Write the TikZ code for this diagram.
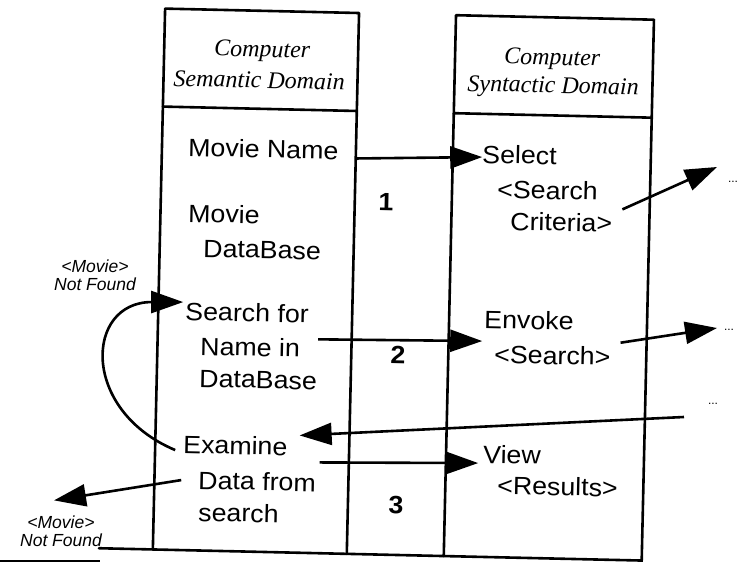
\documentclass[tikz,border=0pt]{standalone}
\usepackage{fontspec}
\usetikzlibrary{arrows.meta}
\newfontfamily\bodyfont{Liberation Sans}[FakeStretch=1.07]
\newfontfamily\headfont{Liberation Serif}
\newfontfamily\notefont{Liberation Sans}

\tikzset{
  frameline/.style={line width=2.6pt, line cap=round, line join=round},
  txt/.style={inner sep=0pt, anchor=base west, rotate=-1.3,
              font=\bodyfont\fontsize{25}{30}\selectfont},
  hdr/.style={inner sep=0pt, anchor=base, rotate=-1.3,
              font=\headfont\itshape\fontsize{24}{28}\selectfont},
  num/.style={inner sep=0pt, rotate=-1.3,
              font=\bodyfont\bfseries\fontsize{25}{30}\selectfont},
  note/.style={inner sep=0pt, align=center,
               font=\notefont\itshape\fontsize{17.5}{18}\selectfont},
  dots/.style={inner sep=0pt, font=\notefont\fontsize{12}{14}\selectfont},
  arr/.style={line width=2.6pt, -{Triangle[length=32pt,width=22pt]}},
}

\begin{document}
\begin{tikzpicture}[x=1pt,y=-1pt]
\fill[white] (0,0) rectangle (756,562);
\useasboundingbox (0,0) rectangle (756,562);

% the two domain columns, slightly tilted as on the page
\begin{scope}[rotate around={-1.3:(400,280)}, frameline]
  \draw (159,14) rectangle (353,112);
  \draw (159,112) -- (159,555);
  \draw (353,112) -- (353,555);
  \draw (450,14) rectangle (648,112);
  \draw (450,112) -- (450,555);
  \draw (648,112) -- (648,578);
  \draw (105,555) -- (648,555);
\end{scope}
\draw[line width=3pt] (0,561) -- (100,561);

% column headings
\node[hdr] (hL1) at (262,57) {Computer};
\node[hdr] (hL2) at (259,88) {Semantic Domain};
\node[hdr] (hR1) at (552,65) {Computer};
\node[hdr] (hR2) at (553,93) {Syntactic Domain};

% semantic domain entries
\node[txt] (mname) at (188,156) {Movie Name};
\node[txt] (mov)   at (188,222) {Movie};
\node[txt] (mdb)   at (203,257) {DataBase};
\node[txt] (sfor)  at (185,320) {Search for};
\node[txt] (nin)   at (200,355) {Name in};
\node[txt] (sdb)   at (199,387) {DataBase};
\node[txt] (exam)  at (183,453) {Examine};
\node[txt] (dfrom) at (198,489) {Data from};
\node[txt] (srch)  at (198,521) {search};

% syntactic domain entries
\node[txt] (sel)     at (482,163) {Select};
\node[txt] (scrit)   at (497,198) {<Search};
\node[txt] (crit)    at (510,230) {Criteria>};
\node[txt] (env)     at (484,328) {Envoke};
\node[txt] (ssearch) at (494,363) {<Search>};
\node[txt] (view)    at (483,463) {View};
\node[txt] (res)     at (497,494) {<Results>};

% step numbers
\node[num] (n1) at (386,202) {1};
\node[num] (n2) at (398,355) {2};
\node[num] (n3) at (396,505) {3};

% side notes
\node[note] (nfA) at (95,275) {<Movie>\\Not Found};
\node[note] (nfB) at (61,531) {<Movie>\\Not Found};

\node[dots] (dA) at (733,182) {...};
\node[dots] (dB) at (729,330) {...};
\node[dots] (dC) at (713,404) {...};

% connectors
\draw[arr] ([xshift=17pt,yshift=-8pt]mname.east) -- ([yshift=-3pt]sel.west);
\draw[arr] ([xshift=10pt,yshift=14pt]crit.east) -- ([xshift=-16pt,yshift=15pt]dA.center);
\draw[arr] ([xshift=18pt,yshift=9pt]nin.east) -- ([xshift=-2pt,yshift=-22pt]env.west);
\draw[arr] ([xshift=10pt,yshift=14pt]ssearch.east) -- ([xshift=-12pt,yshift=2pt]dB.center);
\draw[arr] ([xshift=-29pt,yshift=-13pt]dC.center) -- ([xshift=12pt,yshift=11pt]exam.east);
\draw[arr] ([xshift=32pt,yshift=-16pt]exam.east) -- ([xshift=-5pt,yshift=-9pt]view.west);
\draw[arr] ([xshift=-17pt]dfrom.west) -- ([xshift=-7pt,yshift=15pt]nfB.north);
\draw[arr] ([xshift=-8pt,yshift=-6pt]exam.west) .. controls (80,410) and (85,302) .. ([xshift=-2pt,yshift=9pt]sfor.west);
\end{tikzpicture}
\end{document}
